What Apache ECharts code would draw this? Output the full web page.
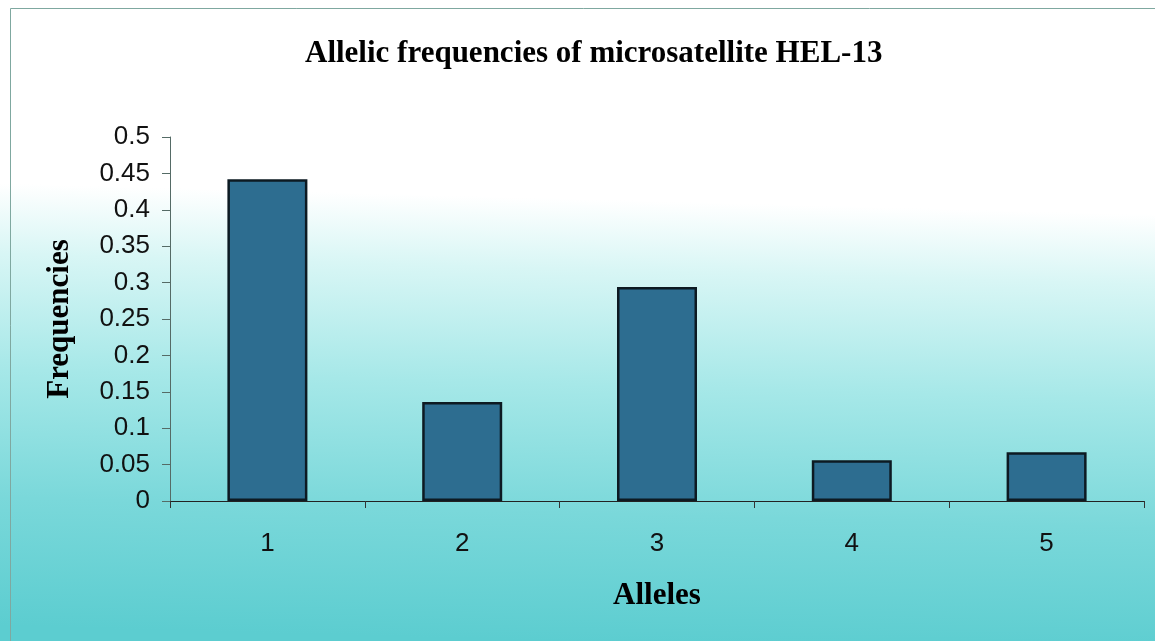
<!DOCTYPE html>
<html><head><meta charset="utf-8">
<script src="https://cdn.jsdelivr.net/npm/echarts@6/dist/echarts.min.js"></script>
<style>html,body{margin:0;padding:0;}#c{width:1155px;height:641px;}</style>
</head><body><div id="c"></div>
<script>
const categories = ['1', '2', '3', '4', '5'];
const frequencies = [0.442, 0.136, 0.294, 0.056, 0.067];
const titleText = 'Allelic frequencies of microsatellite HEL-13';
const xName = 'Alleles';
const yName = 'Frequencies';

const chart = echarts.init(document.getElementById('c'));
chart.setOption({
  backgroundColor: {
    type: 'linear', x: 0.5, y: 0, x2: 0.485, y2: 1,
    colorStops: [
      {offset: 0, color: '#ffffff'},
      {offset: 0.31, color: '#ffffff'},
      {offset: 0.42, color: '#d8f6f5'},
      {offset: 0.6, color: '#a6e8e8'},
      {offset: 0.8, color: '#7ad8da'},
      {offset: 1, color: '#5ccdd0'}
    ]
  },
  graphic: [{
    type: 'rect', shape: {x: 10.5, y: 8.5, width: 1150, height: 640},
    style: {fill: 'none', stroke: '#7fa8a0', lineWidth: 1}, silent: true
  }],
  title: {
    text: titleText, left: 300, top: 33,
    textStyle: {fontFamily: 'Liberation Serif', fontWeight: 'bold', fontSize: 31, color: '#000'}
  },
  grid: {left: 170, right: 11, top: 137, bottom: 140},
  xAxis: {
    type: 'category', data: categories,
    name: xName, nameLocation: 'middle', nameGap: 79,
    nameTextStyle: {fontFamily: 'Liberation Serif', fontWeight: 'bold', fontSize: 31, color: '#000'},
    axisLine: {lineStyle: {color: '#222', width: 1.2}},
    axisTick: {show: true, alignWithLabel: false, length: 7, lineStyle: {color: '#333'}},
    axisLabel: {fontFamily: 'Liberation Sans', fontSize: 26, color: '#111', margin: 30}
  },
  yAxis: {
    type: 'value', min: 0, max: 0.5, interval: 0.05,
    name: yName, nameLocation: 'middle', nameGap: 95, nameRotate: 90,
    nameTextStyle: {fontFamily: 'Liberation Serif', fontWeight: 'bold', fontSize: 31, color: '#000'},
    axisLine: {show: true, lineStyle: {color: '#556b66', width: 1}},
    axisTick: {show: true, length: 8, lineStyle: {color: '#556b66'}},
    splitLine: {show: false},
    axisLabel: {fontFamily: 'Liberation Sans', fontSize: 26, color: '#111', margin: 20,
      formatter: v => String(Math.round(v * 100) / 100)}
  },
  series: [{
    type: 'bar', data: frequencies, barWidth: 80,
    itemStyle: {color: '#2d6d90', borderColor: '#0d1a22', borderWidth: 2.5}
  }]
});
</script></body></html>
